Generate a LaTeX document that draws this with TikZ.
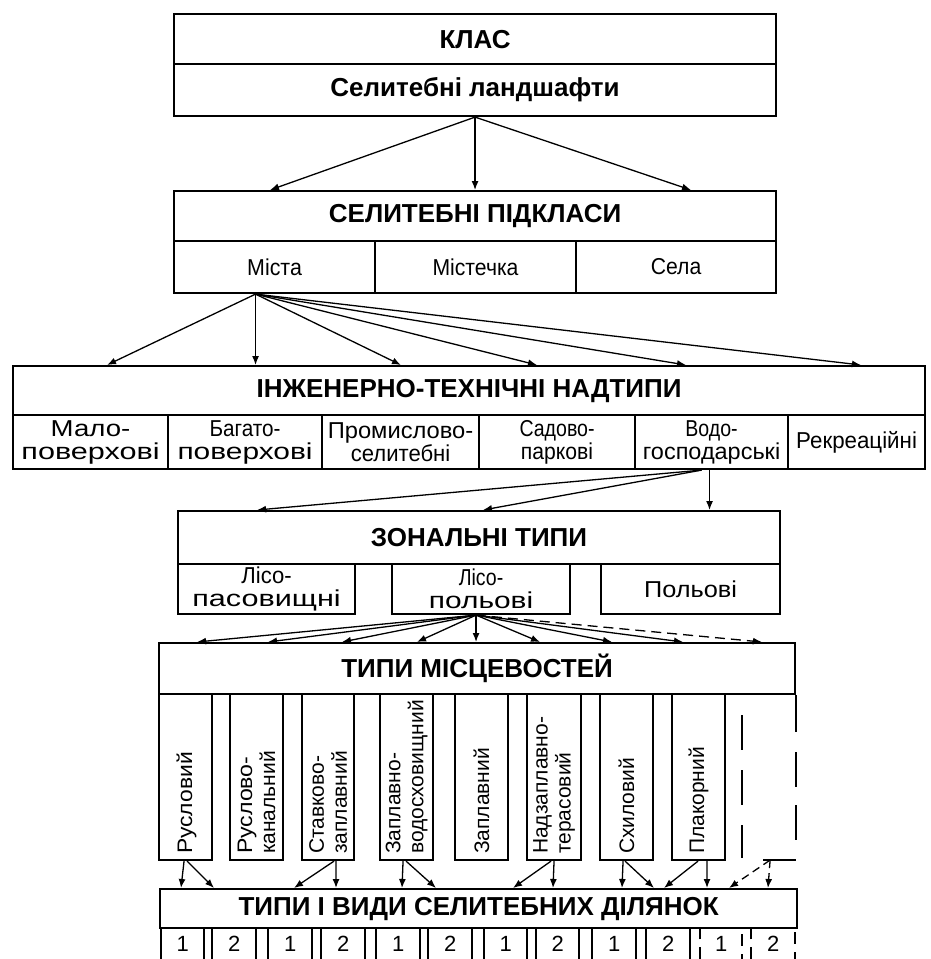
\documentclass[tikz,border=0pt]{standalone}
\usepackage{fontspec}
\usepackage{graphicx}
\setmainfont{Liberation Sans}
\usetikzlibrary{arrows.meta,calc}
\newcommand{\sx}[2]{\scalebox{#1}[1]{#2}}
\begin{document}
\begin{tikzpicture}[x=1pt,y=-1pt,
  box/.style={draw, line width=2.1pt, inner sep=0pt, align=center, anchor=north west},
  cellbox/.style={inner sep=0pt, align=center, anchor=north west},
  hd/.style={font=\bfseries\fontsize{26}{28}\selectfont},
  tx/.style={font=\fontsize{23}{23}\selectfont},
  vt/.style={font=\fontsize{21}{23}\selectfont, rotate=90, anchor=west, align=left, inner sep=0pt},
  num/.style={font=\fontsize{22}{24}\selectfont},
  arr/.style={-{Latex[length=9pt,width=7pt]}, line width=1.3pt},
  darr/.style={arr, dash pattern=on 10pt off 6pt},
  side/.style={line width=2.1pt},
  dside/.style={line width=2.1pt, dash pattern=on 12pt off 8pt},
]
\useasboundingbox (0,0) rectangle (931,959);

% ---- level 1
\node[box,hd,minimum width=602pt,minimum height=50pt] (klas) at (173,13) {КЛАС};
\node[box,hd,minimum width=602pt,minimum height=52pt] (land) at (173,63) {Селитебні ландшафти};

% ---- level 2
\node[box,hd,minimum width=602pt,minimum height=50pt] (pid) at (173,190) {СЕЛИТЕБНІ ПІДКЛАСИ};
\node[box,tx,minimum width=201pt,minimum height=52pt] (mista) at (173,240) {\sx{0.93}{Міста}};
\node[box,tx,minimum width=201pt,minimum height=52pt] (mist) at (374,240) {\sx{0.92}{Містечка}};
\node[box,tx,minimum width=200pt,minimum height=52pt] (sela) at (575,240) {\sx{0.92}{Села}};

\draw[arr] (land.south) -- ($(pid.north west)+(97,0)$);
\draw[arr] (land.south) -- (land.south |- pid.north);
\draw[arr] (land.south) -- ($(pid.north west)+(518,0)$);

% ---- level 3
\node[box,hd,minimum width=912pt,minimum height=49pt] (nad) at (12,365) {ІНЖЕНЕРНО-ТЕХНІЧНІ НАДТИПИ};
\node[box,tx,minimum width=155pt,minimum height=54pt] (malo) at (12,414) {\sx{1.2}{Мало-}\\\sx{1.33}{поверхові}};
\node[box,tx,minimum width=154pt,minimum height=54pt] (bag) at (167,414) {\sx{0.9}{Багато-}\\\sx{1.3}{поверхові}};
\node[box,tx,minimum width=157pt,minimum height=54pt] (prom) at (321,414) {\sx{1.03}{Промислово-}\\\sx{0.96}{селитебні}};
\node[box,tx,minimum width=156pt,minimum height=54pt] (sad) at (478,414) {\sx{0.85}{Садово-}\\\sx{0.92}{паркові}};
\node[box,tx,minimum width=153pt,minimum height=54pt] (vodo) at (634,414) {\sx{0.85}{Водо-}\\\sx{1.02}{господарські}};
\node[box,tx,minimum width=137pt,minimum height=54pt] (rekr) at (787,414) {\sx{0.97}{Рекреаційні}};

\coordinate (ms) at ($(mista.south)+(-19,0)$);
\draw[arr] (ms) -- ($(nad.north west)+(95,0)$);
\draw[arr] (ms) -- (ms |- nad.north);
\draw[arr] (ms) -- ($(nad.north west)+(389,0)$);
\draw[arr] (ms) -- ($(nad.north west)+(525,0)$);
\draw[arr] (ms) -- ($(nad.north west)+(674,0)$);
\draw[arr] (ms) -- ($(nad.north west)+(849,0)$);

% ---- level 4
\node[box,hd,minimum width=602pt,minimum height=53pt] (zon) at (177,510) {ЗОНАЛЬНІ ТИПИ};
\node[box,tx,minimum width=177pt,minimum height=50pt] (lpas) at (177,563) {\sx{0.96}{Лісо-}\\\sx{1.33}{пасовищні}};
\node[box,tx,minimum width=178pt,minimum height=50pt] (lpol) at (391,563) {\sx{0.85}{Лісо-}\\\sx{1.3}{польові}};
\node[box,tx,minimum width=179pt,minimum height=50pt] (pol) at (600,563) {\sx{1.1}{Польові}};

\coordinate (vs) at ($(vodo.south)+(-10,0)$);
\coordinate (vs2) at ($(vodo.south)+(-2,0)$);
\draw[arr] (vs) -- ($(zon.north west)+(80,0)$);
\draw[arr] (vs) -- ($(zon.north west)+(306,0)$);
\draw[arr] (vs2) -- (vs2 |- zon.north);

% ---- level 5
\node[box,hd,minimum width=636pt,minimum height=51pt] (tm) at (158,642) {ТИПИ МІСЦЕВОСТЕЙ};

\coordinate (ls) at ($(lpol.south)+(-5,0)$);
\draw[arr] (ls) -- ($(tm.north west)+(39,0)$);
\draw[arr] (ls) -- ($(tm.north west)+(110,0)$);
\draw[arr] (ls) -- ($(tm.north west)+(184,0)$);
\draw[arr] (ls) -- ($(tm.north west)+(259,0)$);
\draw[arr] (ls) -- (ls |- tm.north);
\draw[arr] (ls) -- ($(tm.north west)+(382,0)$);
\draw[arr] (ls) -- ($(tm.north west)+(454,0)$);
\draw[arr] (ls) -- ($(tm.north west)+(525,0)$);
\draw[darr] (ls) -- ($(tm.north west)+(604,0)$);

\node[box,minimum width=53pt,minimum height=166pt] (v1) at (158,693) {};
\node[box,minimum width=53pt,minimum height=166pt] (v2) at (229,693) {};
\node[box,minimum width=52pt,minimum height=166pt] (v3) at (301,693) {};
\node[box,minimum width=53pt,minimum height=166pt] (v4) at (379,693) {};
\node[box,minimum width=53pt,minimum height=166pt] (v5) at (454,693) {};
\node[box,minimum width=54pt,minimum height=166pt] (v6) at (526,693) {};
\node[box,minimum width=53pt,minimum height=166pt] (v7) at (599,693) {};
\node[box,minimum width=53pt,minimum height=166pt] (v8) at (671,693) {};

\node[vt] (t1) at ($(v1.south)+(1,-7)$) {\sx{1.09}{Русловий}};
\node[vt] (t2) at ($(v2.south)+(0,-7)$) {\sx{1.1}{Руслово-}\\канальний};
\node[vt] (t3) at ($(v3.south)+(0,-7)$) {Ставково-\\заплавний};
\node[vt] (t4) at ($(v4.south)+(0,-7)$) {Заплавно-\\водосховищний};
\node[vt] (t5) at ($(v5.south)+(0,-7)$) {Заплавний};
\node[vt] (t6) at ($(v6.south)+(0,-7)$) {Надзаплавно-\\терасовий};
\node[vt] (t7) at ($(v7.south)+(0,-7)$) {Схиловий};
\node[vt] (t8) at ($(v8.south)+(0,-7)$) {Плакорний};

% dashed (open) column
\coordinate (dtop) at (742,715);
\coordinate (dbot) at (742,858);
\draw[line width=2.1pt, dash pattern=on 35pt off 20pt] (dtop) -- (dbot);
\draw[line width=2.1pt, dash pattern=on 37pt off 20pt on 35pt off 18pt on 35pt off 60pt]
  (tm.south east) -- ($(tm.south east)+(0,147)$);
\coordinate (dbl) at ($(tm.south east)+(-33,165)$);
\coordinate (dbr) at ($(tm.south east)+(0,165)$);
\draw[line width=2.1pt] (dbl) -- (dbr);
\coordinate (dsrc) at ($(tm.south east)+(-26,165)$);

% ---- level 6
\node[box,hd,minimum width=637pt,minimum height=39pt] (tv) at (159,888) {ТИПИ І ВИДИ СЕЛИТЕБНИХ ДІЛЯНОК};

\draw[arr] ($(v1.south)+(-1.5,0)$) -- ($(tv.north west)+(22,0)$);
\draw[arr] ($(v1.south)+(1.5,0)$) -- ($(tv.north west)+(55,0)$);
\draw[arr] ($(v3.south)+(6,0)$) -- ($(tv.north west)+(135,0)$);
\draw[arr] ($(v3.south)+(8,0)$) -- ($(tv.north west)+(177,0)$);
\draw[arr] ($(v4.south)+(-3.5,0)$) -- ($(tv.north west)+(243,0)$);
\draw[arr] ($(v4.south)+(-0.5,0)$) -- ($(tv.north west)+(277,0)$);
\draw[arr] ($(v6.south)+(-3,0)$) -- ($(tv.north west)+(354,0)$);
\draw[arr] (v6.south) -- ($(tv.north west)+(394,0)$);
\draw[arr] ($(v7.south)+(-3.5,0)$) -- ($(tv.north west)+(463,0)$);
\draw[arr] ($(v7.south)+(-1.5,0)$) -- ($(tv.north west)+(495,0)$);
\draw[arr] ($(v8.south)+(-0.5,0)$) -- ($(tv.north west)+(505,0)$);
\draw[arr] ($(v8.south)+(8.5,0)$) -- ($(tv.north west)+(548,0)$);
\draw[darr, dash pattern=on 8pt off 5pt] (dsrc) -- ($(tv.north west)+(570,0)$);
\draw[darr, dash pattern=on 8pt off 5pt] (dsrc) -- ($(tv.north west)+(609,0)$);

% ---- bottom cells (open at the lower edge of the picture)
\foreach \nm/\xx/\ww/\lab in {c1/161/43/1, c2/212/44/2, c3/268/44/1, c4/321/44/2,
    c5/376/44/1, c6/428/44/2, c7/484/43/1, c8/536/43/2, c9/592/44/1, c10/646/44/2}{
  \node[cellbox,num,minimum width=\ww pt,minimum height=31pt] (\nm) at (\xx,928) {\raisebox{-3pt}{\lab}};
  \draw[side] (\nm.south west) -- (\nm.north west) -- (\nm.north east) -- (\nm.south east);
}
\foreach \nm/\xx/\ww/\lab in {c11/700/42/1, c12/751/44/2}{
  \node[cellbox,num,minimum width=\ww pt,minimum height=31pt] (\nm) at (\xx,928) {\raisebox{-3pt}{\lab}};
  \draw[dside] (\nm.south west) -- (\nm.north west) -- (\nm.north east) -- (\nm.south east);
}
\end{tikzpicture}
\end{document}
